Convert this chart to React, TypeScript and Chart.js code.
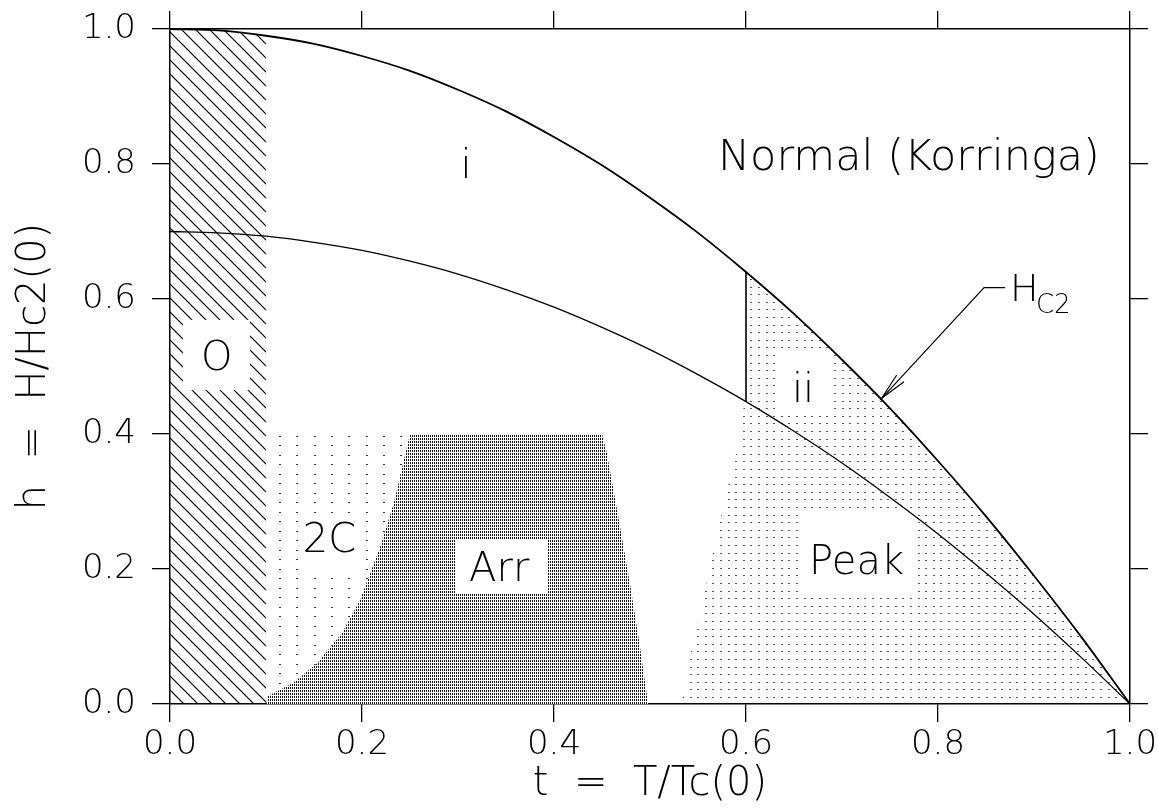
import React, { useEffect, useRef } from 'react';
import { Chart, registerables } from 'chart.js';

Chart.register(...registerables);

const W = 1158;
const H = 811;
const FONT = 'DejaVu Sans';
const WEIGHT = '200';

// ---- axis ticks ----
const tickValues = [0, 0.2, 0.4, 0.6, 0.8, 1.0];
const tickLabels = ['0.0', '0.2', '0.4', '0.6', '0.8', '1.0'];

// ---- Hc2 curve and the lower crossover curve ----
const hc2T = [0, 0.05, 0.1, 0.15, 0.2, 0.25, 0.3, 0.35, 0.4, 0.45, 0.5, 0.55, 0.6, 0.65, 0.7, 0.75, 0.8, 0.85, 0.9, 0.95, 1.0];
const hc2H = [1.0, 0.998, 0.99, 0.978, 0.96, 0.938, 0.91, 0.878, 0.84, 0.798, 0.75, 0.698, 0.64, 0.578, 0.51, 0.438, 0.36, 0.278, 0.19, 0.098, 0.0];
const lowerH = [0.7, 0.698, 0.693, 0.684, 0.672, 0.656, 0.637, 0.614, 0.588, 0.558, 0.525, 0.488, 0.448, 0.404, 0.357, 0.306, 0.252, 0.194, 0.133, 0.068, 0.0];

// ---- regions ----
const oRegionMaxT = 0.1;
const twoCT = [0.1, 0.25];
const twoCH = [0.4, 0.4];
const arrT = [0.1, 0.102, 0.128, 0.153, 0.179, 0.198, 0.219, 0.233, 0.243, 0.25, 0.45, 0.455, 0.467, 0.479, 0.489, 0.498];
const arrH = [0.0, 0.012, 0.031, 0.06, 0.105, 0.154, 0.233, 0.297, 0.357, 0.4, 0.4, 0.372, 0.277, 0.179, 0.09, 0.0];
const peakEdgeT = [0.533, 0.54, 0.549, 0.557, 0.565, 0.572, 0.581, 0.589, 0.596, 0.598, 0.6];
const peakEdgeH = [0.0, 0.065, 0.11, 0.166, 0.221, 0.265, 0.322, 0.366, 0.421, 0.447, 0.448];
const iiEdgeT = [0.6, 0.6];
const iiEdgeH = [0.448, 0.64];

// ---- Hc2 pointer ----
const arrowT = [0.7413, 0.848, 0.87];
const arrowH = [0.4529, 0.617, 0.617];
const arrowHeadT = [0.757, 0.7413, 0.7646];
const arrowHeadH = [0.4874, 0.4529, 0.4775];

// ---- label annotations ----
const boxT0 = [0.0135, 0.1354, 0.2969, 0.65625, 0.6323];
const boxT1 = [0.0833, 0.2, 0.3927, 0.778, 0.6906];
const boxH0 = [0.465, 0.191, 0.1644, 0.1585, 0.4267];
const boxH1 = [0.569, 0.2815, 0.243, 0.283, 0.5244];

const labelText = ['O', '2C', 'Arr', 'Peak', 'ii', 'i', 'Normal (Korringa)', 'H', 'C2'];
const labelT = [0.049, 0.1661, 0.34375, 0.7167, 0.6594, 0.3083, 0.7703, 0.8896, 0.9198];
const labelH = [0.517, 0.2474, 0.2044, 0.2148, 0.4711, 0.8015, 0.8096, 0.6170, 0.5948];
const labelSize = [40, 40, 40, 40, 40, 40, 43, 38, 26];

const pts = (ts: number[], hs: number[]) => ts.map((t, i) => ({ x: t, y: hs[i] }));

function tile(w: number, h: number, draw: (g: CanvasRenderingContext2D) => void) {
  const c = document.createElement('canvas');
  c.width = w;
  c.height = h;
  const g = c.getContext('2d')!;
  draw(g);
  return c;
}

const PEAK_INDEX = 4;

const labelPlugin = {
  id: 'phaseLabels',
  afterDatasetDraw(chart: any, args: any) {
    if (args.index !== PEAK_INDEX) return;
    const { ctx } = chart;
    const xs = chart.scales.x;
    const ys = chart.scales.y;
    ctx.save();
    ctx.fillStyle = '#ffffff';
    for (let i = 0; i < boxT0.length; i++) {
      const x0 = xs.getPixelForValue(boxT0[i]);
      const x1 = xs.getPixelForValue(boxT1[i]);
      const y0 = ys.getPixelForValue(boxH1[i]);
      const y1 = ys.getPixelForValue(boxH0[i]);
      ctx.fillRect(x0, y0, x1 - x0, y1 - y0);
    }
    ctx.fillStyle = '#000000';
    ctx.textAlign = 'left';
    ctx.textBaseline = 'alphabetic';
    for (let i = 0; i < labelText.length; i++) {
      ctx.font = `${WEIGHT} ${labelSize[i]}px "${FONT}"`;
      const m = ctx.measureText(labelText[i]);
      const w = m.actualBoundingBoxLeft + m.actualBoundingBoxRight;
      const h = m.actualBoundingBoxAscent + m.actualBoundingBoxDescent;
      const cx = xs.getPixelForValue(labelT[i]);
      const cy = ys.getPixelForValue(labelH[i]);
      ctx.fillText(labelText[i], cx - w / 2 + m.actualBoundingBoxLeft, cy - h / 2 + m.actualBoundingBoxAscent);
    }
    ctx.restore();
  },
};

export default function App() {
  const ref = useRef<HTMLCanvasElement>(null);

  useEffect(() => {
    const canvas = ref.current!;
    const ctx = canvas.getContext('2d')!;

    const hatchTile = tile(14, 14, (g) => {
      g.strokeStyle = '#000';
      g.lineWidth = 1.2;
      for (const k of [-1, 0, 1]) {
        g.beginPath();
        g.moveTo(-14, -14 + k * 14);
        g.lineTo(28, 28 + k * 14);
        g.stroke();
      }
    });
    const hatch = ctx.createPattern(hatchTile, 'repeat')!;
    hatch.setTransform(new DOMMatrix().translate(0, 2));

    const sparseTile = tile(52, 19, (g) => {
      g.fillStyle = '#333';
      for (const x of [0, 17, 35]) for (const y of [0, 9]) g.fillRect(x, y, 2, 1);
    });
    const sparse = ctx.createPattern(sparseTile, 'repeat')!;
    sparse.setTransform(new DOMMatrix().translate(279, 436));

    const denseTile = tile(2, 3, (g) => {
      g.fillStyle = '#111';
      g.fillRect(0, 0, 1, 2);
    });
    const dense = ctx.createPattern(denseTile, 'repeat')!;

    const dotTile = tile(38, 38, (g) => {
      g.fillStyle = '#555';
      const p = [0, 8, 15, 23, 30];
      for (const x of p) for (const y of p) g.fillRect(x, y, 2, 1);
    });
    const dots = ctx.createPattern(dotTile, 'repeat')!;
    dots.setTransform(new DOMMatrix().translate(682, 697));

    const oT = hc2T.filter((t) => t <= oRegionMaxT);
    const oH = hc2H.slice(0, oT.length);
    const upperIdx = hc2T.map((t, i) => i).filter((i) => hc2T[i] >= 0.6);
    const peakT = [...peakEdgeT, ...upperIdx.map((i) => hc2T[i])];
    const peakH = [...peakEdgeH, ...upperIdx.map((i) => hc2H[i])];

    const fillOnly = { borderWidth: 0, borderColor: 'rgba(0,0,0,0)', pointRadius: 0, fill: 'origin' as const };
    const lineOnly = { borderColor: '#000', pointRadius: 0, fill: false as const, backgroundColor: 'rgba(0,0,0,0)' };

    const axisFont = { family: FONT, size: 34, weight: WEIGHT as any };
    const titleFont = { family: FONT, size: 40, weight: WEIGHT as any };
    const grid = { drawOnChartArea: false, drawTicks: true, tickLength: 18, color: '#000', lineWidth: 1.3 };
    const border = { display: true, color: '#000', width: 1.5 };
    const setTicks = (s: any) => {
      s.ticks = tickValues.map((v) => ({ value: v }));
    };

    const chart = new Chart(canvas, {
      type: 'line',
      data: {
        datasets: [
          { label: 'O', data: pts(oT, oH), backgroundColor: hatch, order: 9, ...fillOnly },
          { label: '2C', data: pts(twoCT, twoCH), backgroundColor: sparse, order: 8, ...fillOnly },
          { label: 'Arr base', data: pts(arrT, arrH), backgroundColor: '#ffffff', order: 7, ...fillOnly },
          { label: 'Arr', data: pts(arrT, arrH), backgroundColor: dense, order: 6, ...fillOnly },
          { label: 'Peak', data: pts(peakT, peakH), backgroundColor: dots, order: 5, ...fillOnly },
          { label: 'lower', data: pts(hc2T, lowerH), borderWidth: 1.3, cubicInterpolationMode: 'monotone', order: 4, ...lineOnly },
          { label: 'Hc2', data: pts(hc2T, hc2H), borderWidth: 1.8, cubicInterpolationMode: 'monotone', order: 3, ...lineOnly },
          { label: 'ii edge', data: pts(iiEdgeT, iiEdgeH), borderWidth: 1.6, order: 2, ...lineOnly },
          { label: 'arrow', data: pts(arrowT, arrowH), borderWidth: 1.2, order: 1, ...lineOnly },
          { label: 'arrow head', data: pts(arrowHeadT, arrowHeadH), borderWidth: 1.2, order: 0, ...lineOnly },
        ] as any,
      },
      options: {
        responsive: false,
        animation: false,
        devicePixelRatio: 1,
        events: [],
        layout: { padding: 0 },
        plugins: { legend: { display: false }, tooltip: { enabled: false } },
        elements: { point: { radius: 0, hoverRadius: 0 } },
        scales: {
          x: {
            type: 'linear',
            position: 'bottom',
            min: 0,
            max: 1,
            afterBuildTicks: setTicks,
            ticks: { callback: (_v: any, i: number) => tickLabels[i], font: axisFont, color: '#000', padding: 3, maxRotation: 0, autoSkip: false },
            grid,
            border,
            title: { display: true, text: 't  =  T/Tc(0)', font: titleFont, color: '#000', padding: { top: 0, bottom: 2 } },
            afterFit: (s: any) => {
              s.height = 107;
              s.paddingLeft = 0;
              s.paddingRight = 0;
            },
          },
          x2: {
            type: 'linear',
            position: 'top',
            min: 0,
            max: 1,
            afterBuildTicks: setTicks,
            ticks: { display: false },
            grid,
            border,
            afterFit: (s: any) => {
              s.height = 29;
              s.paddingLeft = 0;
              s.paddingRight = 0;
            },
          },
          y: {
            type: 'linear',
            position: 'left',
            min: 0,
            max: 1,
            afterBuildTicks: setTicks,
            ticks: { callback: (_v: any, i: number) => tickLabels[i], font: axisFont, color: '#000', padding: 16 },
            grid,
            border,
            title: { display: true, text: 'h  =  H/Hc2(0)', font: titleFont, color: '#000', padding: { top: 11, bottom: 0 } },
            afterFit: (s: any) => {
              s.width = 170;
              s.paddingTop = 0;
              s.paddingBottom = 0;
            },
          },
          y2: {
            type: 'linear',
            position: 'right',
            min: 0,
            max: 1,
            afterBuildTicks: setTicks,
            ticks: { display: false },
            grid,
            border,
            afterFit: (s: any) => {
              s.width = 28;
              s.paddingTop = 0;
              s.paddingBottom = 0;
            },
          },
        } as any,
      },
      plugins: [labelPlugin],
    });

    return () => chart.destroy();
  }, []);

  return (
    <div style={{ position: 'absolute', left: 0, top: 0, width: W, height: H, background: '#fff' }}>
      <canvas ref={ref} width={W} height={H} style={{ width: W, height: H, display: 'block' }} />
    </div>
  );
}
